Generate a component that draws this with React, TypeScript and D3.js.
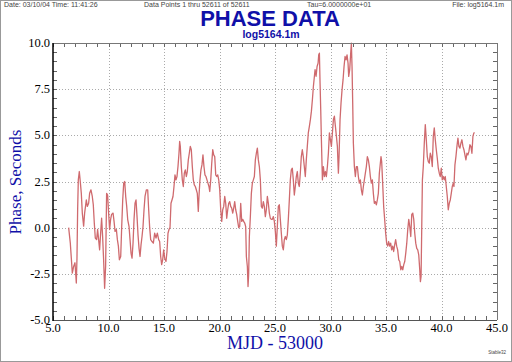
import React from 'react';
import * as d3 from 'd3';

// phase record (MJD - 53000, seconds)
const mjd = [
  6.41, 6.56, 6.65, 6.74, 6.86, 6.98, 7.1, 7.16, 7.22, 7.28, 7.37, 7.46, 7.55, 7.64, 7.76, 7.85, 8.0, 8.09, 8.21, 8.3,
  8.42, 8.54, 8.63, 8.72, 8.81, 8.93, 9.02, 9.11, 9.2, 9.29, 9.38, 9.47, 9.56, 9.65, 9.74, 9.83, 9.92, 10.01, 10.1, 10.19,
  10.28, 10.41, 10.5, 10.59, 10.71, 10.8, 10.89, 10.98, 11.1, 11.19, 11.28, 11.37, 11.46, 11.55, 11.64, 11.73, 11.85, 11.94, 12.03, 12.12,
  12.21, 12.3, 12.39, 12.48, 12.57, 12.66, 12.75, 12.84, 12.93, 13.02, 13.11, 13.2, 13.29, 13.41, 13.53, 13.62, 13.71, 13.8, 13.92, 14.04,
  14.16, 14.28, 14.4, 14.52, 14.61, 14.7, 14.79, 14.88, 14.97, 15.06, 15.18, 15.27, 15.36, 15.45, 15.54, 15.63, 15.72, 15.81, 15.9, 15.99,
  16.08, 16.17, 16.26, 16.35, 16.41, 16.47, 16.56, 16.65, 16.74, 16.83, 16.92, 17.01, 17.1, 17.19, 17.28, 17.37, 17.46, 17.55, 17.64, 17.73,
  17.82, 17.91, 18.0, 18.09, 18.15, 18.24, 18.33, 18.42, 18.51, 18.6, 18.69, 18.78, 18.87, 18.96, 19.05, 19.12, 19.21, 19.3, 19.39, 19.48,
  19.57, 19.66, 19.75, 19.84, 19.93, 20.02, 20.11, 20.2, 20.29, 20.38, 20.47, 20.56, 20.65, 20.74, 20.83, 20.92, 21.01, 21.1, 21.19, 21.28,
  21.37, 21.46, 21.55, 21.64, 21.73, 21.82, 21.91, 22.0, 22.09, 22.18, 22.27, 22.36, 22.42, 22.51, 22.57, 22.63, 22.69, 22.78, 22.87, 22.96,
  23.05, 23.14, 23.23, 23.32, 23.41, 23.5, 23.59, 23.68, 23.77, 23.86, 23.95, 24.04, 24.13, 24.22, 24.31, 24.4, 24.49, 24.58, 24.67, 24.76,
  24.85, 24.94, 25.03, 25.12, 25.21, 25.3, 25.39, 25.48, 25.57, 25.66, 25.75, 25.84, 25.93, 26.02, 26.11, 26.2, 26.29, 26.38, 26.47, 26.56,
  26.65, 26.74, 26.83, 26.92, 27.01, 27.1, 27.19, 27.28, 27.37, 27.46, 27.55, 27.64, 27.73, 27.82, 27.91, 28.0, 28.1, 28.19, 28.28, 28.37,
  28.46, 28.55, 28.61, 28.7, 28.79, 28.88, 28.94, 29.0, 29.06, 29.12, 29.18, 29.27, 29.36, 29.45, 29.54, 29.63, 29.72, 29.81, 29.9, 29.99,
  30.08, 30.17, 30.26, 30.35, 30.44, 30.53, 30.62, 30.71, 30.77, 30.86, 30.95, 31.04, 31.13, 31.22, 31.31, 31.4, 31.49, 31.58, 31.64, 31.73,
  31.82, 31.88, 31.94, 32.0, 32.06, 32.15, 32.24, 32.33, 32.42, 32.51, 32.6, 32.69, 32.78, 32.87, 32.96, 33.05, 33.14, 33.23, 33.32, 33.41,
  33.5, 33.59, 33.68, 33.77, 33.86, 33.95, 34.04, 34.13, 34.22, 34.31, 34.4, 34.49, 34.55, 34.61, 34.7, 34.79, 34.88, 34.97, 35.06, 35.15,
  35.24, 35.33, 35.42, 35.51, 35.6, 35.69, 35.78, 35.87, 35.96, 36.05, 36.15, 36.24, 36.33, 36.42, 36.51, 36.6, 36.69, 36.78, 36.87, 36.96,
  37.05, 37.14, 37.23, 37.32, 37.41, 37.5, 37.59, 37.68, 37.77, 37.86, 37.95, 38.04, 38.1, 38.16, 38.22, 38.28, 38.36, 38.45, 38.54, 38.63,
  38.72, 38.81, 38.9, 38.99, 39.08, 39.17, 39.26, 39.35, 39.44, 39.53, 39.62, 39.71, 39.8, 39.89, 39.98, 40.07, 40.16, 40.25, 40.34, 40.43,
  40.52, 40.61, 40.7, 40.79, 40.88, 40.97, 41.06, 41.12, 41.21, 41.3, 41.39, 41.48, 41.57, 41.66, 41.75, 41.84, 41.93, 42.02, 42.11, 42.2,
  42.29, 42.38, 42.47, 42.56, 42.65, 42.74, 42.83, 42.92, 42.98,
];
const phase = [
  0, -0.84, -1.65, -2.46, -2.1, -1.9, -3.0, -1.65, 0.97, 2.59, 3.04, 2.48, 1.86, 0.79, 0.08, 0.79, 1.5, 1.15, 1.32, 1.86,
  2.05, 1.69, 1.24, 0.25, -0.56, -0.65, -0.1, -0.65, -1.2, -0.3, 0.51, -0.48, -1.74, -3.28, -2.1, 1.86, 1.77, 0.79, -0.1, 0.45,
  0.72, 0.79, 0.34, -0.2, -0.1, -0.65, -1.0, -1.74, -1.56, 0.06, 1.5, 2.41, 2.5, 1.69, 1.15, 0.44, 0.06, -0.65, -1.38, -1.65,
  -0.84, 0.45, 1.32, 1.5, 0.6, -0.4, -1.12, -1.56, -0.93, -0.48, 0.06, 0.97, 1.69, 2.05, 2.05, 0.97, 0, -0.65, -0.75, -0.84,
  -0.3, -0.56, -0.3, -0.65, -0.75, -1.56, -2.0, -1.74, -1.2, -1.65, -1.83, -1.29, -0.3, -0.1, 0, 1.32, 1.5, 1.69, 2.23, 2.86,
  2.59, 2.77, 3.31, 4.03, 4.67, 4.4, 3.31, 2.59, 2.23, 2.95, 3.13, 2.77, 3.04, 3.67, 4.03, 4.4, 4.22, 3.31, 2.59, 2.32,
  2.23, 2.05, 1.86, 0.88, 1.69, 2.59, 3.13, 3.4, 3.94, 3.31, 2.86, 2.77, 2.59, 2.41, 2.23, 1.96, 2.59, 3.49, 4.22, 3.94,
  3.85, 2.86, 2.77, 2.86, 2.59, 2.05, 0.97, 0.34, 0.97, 1.15, 1.69, 1.32, 0.51, 0.97, 1.32, 1.41, 1.15, 1.06, 0.79, 1.06,
  1.41, 0.97, 0.72, 0.34, 0, 0.06, 1.32, 0.34, 0.45, 0.34, 0.25, 0.06, -1.56, -2.1, -3.19, -2.46, -0.48, 0.6, 1.86, 2.41,
  2.59, 2.77, 3.67, 4.03, 4.31, 3.67, 3.31, 2.59, 1.15, 1.06, 1.41, 1.15, 0.6, 0.97, 1.69, 1.32, 0.79, 0.51, 0.45, 0.45,
  0.6, 0.34, -0.2, -1.0, 0.06, 1.15, 1.24, 0.45, -0.3, -1.0, -1.2, -0.65, -0.48, -0.65, -0.39, 0.45, 1.5, 2.59, 3.13, 3.22,
  2.59, 1.77, 2.23, 2.77, 3.04, 2.41, 2.23, 2.95, 3.85, 4.22, 3.85, 3.31, 2.77, 3.67, 4.4, 5.13, 5.5, 5.86, 6.31, 6.94,
  7.66, 8.2, 8.56, 8.2, 8.73, 8.9, 9.36, 9.45, 7.82, 6.38, 4.76, 2.59, 3.31, 2.77, 3.04, 2.77, 3.31, 4.03, 5.13, 4.76,
  4.4, 5.13, 5.86, 6.04, 5.5, 4.96, 4.4, 2.95, 3.85, 5.86, 6.76, 7.46, 8.0, 8.73, 9.27, 9.09, 9.36, 8.91, 8.19, 8.56,
  9.45, 9.99, 8.73, 6.76, 4.58, 3.31, 2.77, 3.31, 3.31, 2.77, 2.41, 2.59, 2.05, 1.77, 2.23, 2.59, 2.95, 3.31, 3.85, 3.67,
  3.31, 2.77, 2.41, 2.59, 1.86, 1.32, 1.41, 1.24, 1.5, 1.86, 2.95, 3.49, 3.85, 3.58, 2.41, 1.15, 0.45, -0.3, -0.84, -1.0,
  -0.75, -1.0, -0.84, -1.2, -1.0, -1.29, -0.93, -0.65, -1.0, -1.2, -1.74, -1.83, -2.28, -2.1, -2.28, -2.0, -1.83, -1.38, -0.84, -0.1,
  0.45, 0.06, -0.48, 0.72, 0.79, 0.45, -0.3, -0.84, -1.12, -1.2, -1.47, -2.28, -2.92, -2.64, 0, 2.59, 3.31, 4.58, 5.58, 4.76,
  3.85, 3.58, 3.49, 4.03, 3.85, 3.31, 4.94, 5.4, 4.76, 4.22, 3.76, 3.22, 2.95, 2.77, 3.22, 2.59, 2.77, 2.59, 2.77, 2.23,
  1.69, 0.97, 1.32, 1.5, 1.86, 2.23, 2.41, 2.23, 3.4, 3.85, 4.4, 4.85, 4.4, 4.31, 4.58, 4.76, 4.4, 4.22, 3.94, 3.67,
  4.03, 3.94, 4.13, 4.49, 4.4, 4.03, 4.94, 5.13, 5.16,
];

const xTicks = [5, 10, 15, 20, 25, 30, 35, 40, 45];
const yTicks = [-5, -2.5, 0, 2.5, 5, 7.5, 10];

const headerLeft = 'Date: 03/10/04   Time: 11:41:26';
const headerMid = 'Data Points 1 thru 52611 of 52611';
const headerTau = 'Tau=6.0000000e+01';
const headerFile = 'File: log5164.1m';
const title = 'PHASE DATA';
const subtitle = 'log5164.1m';
const xTitle = 'MJD  -  53000';
const yTitle = 'Phase, Seconds';

export default function App() {
  const width = 512;
  const height = 362;
  const left = 53, right = 497, top = 43, bottom = 320;

  const x = d3.scaleLinear().domain([5, 45]).range([left, right]);
  const y = d3.scaleLinear().domain([-5, 10]).range([bottom, top]);

  const line = d3.line<number>()
    .x((d, i) => x(mjd[i]))
    .y((d) => y(d));

  const xMinor = d3.range(5, 45.01, 1);
  const yMinor = d3.range(-5, 10.01, 0.5);
  const serif = '"Liberation Serif", "Times New Roman", serif';
  const sans = '"Liberation Sans", Arial, sans-serif';
  const blue = '#1010a8';

  return (
    <svg width={width} height={height} style={{ position: 'absolute', left: 0, top: 0, background: '#fff' }}>
      <rect x={0.5} y={0.5} width={width - 1} height={height - 1} fill="#fff" stroke="#999" />

      {/* header line */}
      <g fontFamily={sans} fontSize={7} fill="#444">
        <text x={4} y={7}>{headerLeft}</text>
        <text x={144} y={7}>{headerMid}</text>
        <text x={307} y={7}>{headerTau}</text>
        <text x={504} y={7} textAnchor="end">{headerFile}</text>
      </g>
      <text x={270} y={26} textAnchor="middle" fontFamily={sans} fontWeight="bold" fontSize={22} fill={blue}>{title}</text>
      <text x={271} y={38} textAnchor="middle" fontFamily={sans} fontWeight="bold" fontSize={10.5} fill={blue}>{subtitle}</text>

      {/* grid */}
      <g stroke="#aaa" strokeWidth={1} strokeDasharray="1,2">
        {xTicks.slice(1, -1).map((t) => (
          <line key={'gx' + t} x1={Math.round(x(t)) + 0.5} x2={Math.round(x(t)) + 0.5} y1={top} y2={bottom} />
        ))}
        {yTicks.slice(1, -1).map((t) => (
          <line key={'gy' + t} x1={left} x2={right} y1={Math.round(y(t)) + 0.5} y2={Math.round(y(t)) + 0.5} />
        ))}
      </g>

      {/* minor ticks on all sides */}
      <g stroke="#666" strokeWidth={1}>
        {xMinor.map((t) => {
          const px = Math.round(x(t)) + 0.5;
          return (
            <g key={'tx' + t}>
              <line x1={px} x2={px} y1={top} y2={top + 4} />
              <line x1={px} x2={px} y1={bottom} y2={bottom - 4} />
            </g>
          );
        })}
        {yMinor.map((t) => {
          const py = Math.round(y(t)) + 0.5;
          return (
            <g key={'ty' + t}>
              <line x1={left} x2={left + 4} y1={py} y2={py} />
              <line x1={right} x2={right - 4} y1={py} y2={py} />
            </g>
          );
        })}
      </g>

      {/* data */}
      <path d={line(phase) || ''} fill="none" stroke="#cf6a6e" strokeWidth={1.3} strokeLinejoin="round" />

      {/* frame */}
      <line x1={left} x2={right} y1={top + 0.5} y2={top + 0.5} stroke="#777" />
      <line x1={left} x2={right} y1={bottom + 0.5} y2={bottom + 0.5} stroke="#555" />
      <line x1={right + 0.5} x2={right + 0.5} y1={top} y2={bottom} stroke="#777" />
      <line x1={left} x2={left} y1={top} y2={bottom + 1} stroke="#000" strokeWidth={1.5} />

      {/* tick labels */}
      <g fontFamily={serif} fontSize={12.5} fill="#000">
        {yTicks.map((t) => (
          <text key={'ly' + t} x={50} y={y(t) + 4} textAnchor="end">{t.toFixed(1)}</text>
        ))}
        {xTicks.map((t) => (
          <text key={'lx' + t} x={x(t)} y={332} textAnchor="middle">{t.toFixed(1)}</text>
        ))}
      </g>

      <text x={275} y={349} textAnchor="middle" fontFamily={serif} fontSize={18} fill={blue}>{xTitle}</text>
      <text transform="translate(21,182) rotate(-90)" textAnchor="middle" fontFamily={serif} fontSize={17} fill={blue}>{yTitle}</text>
      <text x={506} y={354} textAnchor="end" fontFamily={sans} fontSize={4.5} fill="#444">Stable32</text>
    </svg>
  );
}
